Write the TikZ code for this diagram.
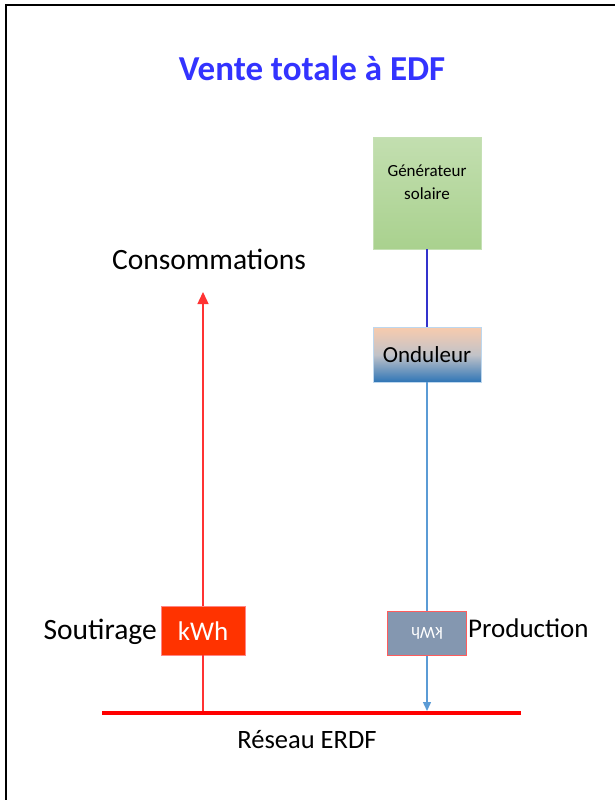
\documentclass[tikz,border=0pt]{standalone}
\usepackage{fontspec}
\setmainfont{Carlito}
\usetikzlibrary{arrows.meta}
\definecolor{titleblue}{HTML}{3333FF}
\definecolor{gengreen}{HTML}{A9D18E}
\definecolor{genborder}{HTML}{C5E0B4}
\definecolor{peach}{HTML}{F8CBAD}
\definecolor{ondblue}{HTML}{2E75B6}
\definecolor{prodblue}{HTML}{5B9BD5}
\definecolor{linkblue}{HTML}{3333CC}
\definecolor{kwhred}{HTML}{FF3300}
\definecolor{kwhgray}{HTML}{8497B0}
\definecolor{linered}{HTML}{FF3333}
\tikzset{
  lbl/.style={inner sep=0pt},
  boxbase/.style={minimum width=108pt, inner sep=0pt},
}
\begin{document}
\begin{tikzpicture}[x=1pt,y=-1pt]
\useasboundingbox (0,0) rectangle (615,800);
% frame
\draw[line width=2pt, black] (6,805) -- (6,5) -- (620,5);
% title
\node[font=\fontsize{35}{40}\selectfont\bfseries, text=titleblue] (title) at (312,68) {Vente totale à EDF};
% generator
\node[boxbase, minimum height=112pt, top color=gengreen!70, bottom color=gengreen, draw=genborder, anchor=north] (gen) at (427,137) {};
\node[font=\fontsize{17}{23}\selectfont, align=center] (gentext) at (427,182) {Générateur\\solaire};
% onduleur
\node[boxbase, minimum height=55pt, top color=peach, bottom color=ondblue, middle color=peach!60!ondblue!70, draw=prodblue!40, anchor=north, font=\fontsize{23}{26}\selectfont] (ond) at (427,327) {Onduleur};
\draw[linkblue, line width=1.4pt] (gen.south) -- (ond.north);
% grid line
\coordinate (gridL) at (102,713);
\coordinate (gridR) at (521,713);
\draw[red, line width=4pt] (gridL) -- (gridR);
\node[lbl, font=\fontsize{26.5}{30}\selectfont] (reseau) at (307,740) {Réseau ERDF};
% production
\coordinate (prodEnd) at (427,711);
\node[fill=kwhgray, draw=linered!80, line width=1.2pt, minimum width=79pt, minimum height=44pt, inner sep=0pt, anchor=north] (kwhP) at (427,611) {};
\node[rotate=180, text=white, font=\fontsize{17}{19}\selectfont] (kwhPt) at (kwhP.center) {kWh};
\draw[prodblue, line width=1.4pt] (ond.south) -- (kwhP.north);
\draw[prodblue, line width=1.4pt, -{Triangle[length=9pt,width=8pt]}] (kwhP.south) -- (prodEnd);
\node[lbl, anchor=west, font=\fontsize{27}{30}\selectfont] (prod) at (468,628) {Production};
% soutirage
\coordinate (sStart) at (203,711);
\coordinate (cons) at (203,292);
\node[fill=kwhred, draw=linered!60, minimum width=84pt, minimum height=49pt, inner sep=0pt, anchor=north, text=white, font=\fontsize{27}{30}\selectfont] (kwhS) at (203,606) {kWh};
\draw[linered, line width=1.4pt] (sStart) -- (kwhS.south);
\draw[linered, line width=1.4pt, -{Triangle[length=12pt,width=11pt]}] (kwhS.north) -- (cons);
\node[lbl, anchor=east, font=\fontsize{29.5}{32}\selectfont] (sout) at (157,632) {Soutirage};
\node[lbl, font=\fontsize{29.5}{32}\selectfont] (conso) at (209,259) {Consommations};
\end{tikzpicture}
\end{document}
